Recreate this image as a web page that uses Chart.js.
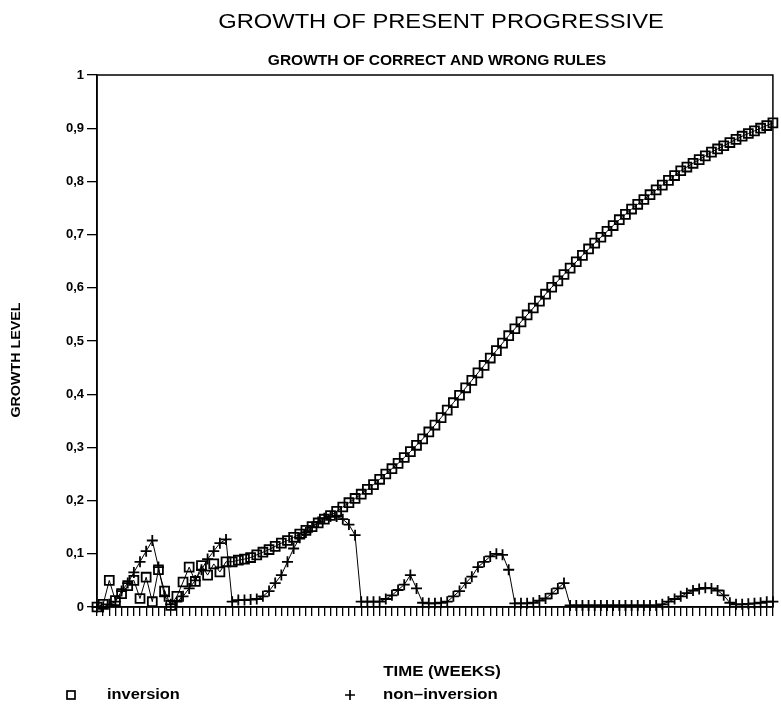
<!DOCTYPE html>
<html>
<head>
<meta charset="utf-8">
<script src="https://cdn.jsdelivr.net/npm/chart.js@4.4.1/dist/chart.umd.min.js"></script>
<style>
  html, body { margin: 0; padding: 0; background: #fff; }
  #wrap { width: 781px; height: 704px; }
</style>
</head>
<body>
<div id="wrap"><canvas id="chart" width="781" height="704"></canvas></div>
<script>
// Texts
const TITLE = 'GROWTH OF PRESENT PROGRESSIVE';
const SUBTITLE = 'GROWTH OF CORRECT AND WRONG RULES';
const X_TITLE = 'TIME (WEEKS)';
const Y_TITLE = 'GROWTH LEVEL';
const SERIES_NAMES = ['inversion', 'non\u2013inversion'];

// One tick per week
const weeks = Array.from({ length: 111 }, (_, i) => String(i + 1));

// Y tick labels (decimal comma)
const yTickLabels = ['0', '0,1', '0,2', '0,3', '0,4', '0,5', '0,6', '0,7', '0,8', '0,9', '1'];

// Growth level of the correct rule (inversion)
const inversion = [
  0.000, 0.005, 0.050, 0.012, 0.025, 0.040, 0.050, 0.016, 0.056, 0.010,
  0.070, 0.030, 0.003, 0.020, 0.047, 0.075, 0.048, 0.078, 0.060, 0.081,
  0.066, 0.085, 0.085, 0.088, 0.090, 0.093, 0.098, 0.103, 0.108, 0.114,
  0.120, 0.125, 0.131, 0.137, 0.144, 0.151, 0.158, 0.165, 0.172, 0.180,
  0.188, 0.196, 0.204, 0.212, 0.221, 0.230, 0.240, 0.250, 0.260, 0.270,
  0.281, 0.292, 0.304, 0.316, 0.329, 0.342, 0.356, 0.370, 0.384, 0.398,
  0.412, 0.426, 0.440, 0.454, 0.468, 0.482, 0.496, 0.510, 0.523, 0.536,
  0.549, 0.562, 0.575, 0.588, 0.601, 0.613, 0.625, 0.637, 0.649, 0.661,
  0.673, 0.684, 0.695, 0.706, 0.717, 0.728, 0.738, 0.748, 0.757, 0.766,
  0.775, 0.784, 0.793, 0.802, 0.811, 0.820, 0.827, 0.834, 0.841, 0.848,
  0.855, 0.861, 0.867, 0.873, 0.879, 0.885, 0.890, 0.895, 0.900, 0.905,
  0.910
];

// Growth level of the wrong rule (non-inversion)
const nonInversion = [
  0.000, 0.000, 0.005, 0.010, 0.030, 0.045, 0.065, 0.085, 0.105, 0.125,
  0.075, 0.020, 0.005, 0.010, 0.020, 0.035, 0.050, 0.070, 0.090, 0.105,
  0.120, 0.127, 0.010, 0.013, 0.013, 0.014, 0.015, 0.020, 0.030, 0.045,
  0.060, 0.085, 0.110, 0.130, 0.140, 0.150, 0.160, 0.167, 0.170, 0.170,
  0.165, 0.155, 0.135, 0.010, 0.010, 0.010, 0.010, 0.015, 0.022, 0.032,
  0.042, 0.060, 0.035, 0.008, 0.007, 0.007, 0.008, 0.010, 0.020, 0.030,
  0.045, 0.057, 0.075, 0.085, 0.095, 0.100, 0.098, 0.070, 0.007, 0.007,
  0.007, 0.008, 0.012, 0.016, 0.025, 0.035, 0.045, 0.003, 0.003, 0.003,
  0.003, 0.003, 0.003, 0.003, 0.003, 0.003, 0.003, 0.003, 0.003, 0.003,
  0.003, 0.003, 0.005, 0.010, 0.015, 0.020, 0.026, 0.031, 0.034, 0.036,
  0.035, 0.031, 0.022, 0.008, 0.005, 0.005, 0.006, 0.007, 0.008, 0.010,
  0.010
];

const INK = '#000';
const FONT = '"Liberation Sans", Arial, sans-serif';

// Draws a text horizontally stretched around its anchor point
function wideText(ctx, text, x, y, font, stretch, align) {
  ctx.save();
  ctx.font = font;
  ctx.textAlign = align;
  ctx.textBaseline = 'middle';
  ctx.translate(x, y);
  ctx.scale(stretch, 1);
  ctx.fillText(text, 0, 0);
  ctx.restore();
}

// Frame, titles, axis titles and legend
const decorations = {
  id: 'decorations',
  afterDraw(chart) {
    const { ctx, chartArea: a } = chart;
    ctx.save();
    ctx.strokeStyle = INK;
    ctx.fillStyle = INK;
    ctx.lineWidth = 1.5;
    ctx.strokeRect(a.left, a.top, a.right - a.left, a.bottom - a.top);

    wideText(ctx, TITLE, 441, 22, '21px ' + FONT, 1.13, 'center');
    wideText(ctx, SUBTITLE, 437, 61, 'bold 14px ' + FONT, 1.11, 'center');
    wideText(ctx, X_TITLE, 442, 672, 'bold 14px ' + FONT, 1.2, 'center');

    ctx.save();
    ctx.translate(16, 360);
    ctx.rotate(-Math.PI / 2);
    wideText(ctx, Y_TITLE, 0, 0, 'bold 13px ' + FONT, 1.1, 'center');
    ctx.restore();

    // legend
    ctx.lineWidth = 1.7;
    ctx.strokeRect(67, 691, 8, 8);
    wideText(ctx, SERIES_NAMES[0], 107, 695, 'bold 14px ' + FONT, 1.17, 'left');
    ctx.beginPath();
    ctx.moveTo(345, 695); ctx.lineTo(355, 695);
    ctx.moveTo(350, 690); ctx.lineTo(350, 700);
    ctx.stroke();
    wideText(ctx, SERIES_NAMES[1], 383, 695, 'bold 14px ' + FONT, 1.2, 'left');
    ctx.restore();
  }
};

new Chart(document.getElementById('chart'), {
  type: 'line',
  data: {
    labels: weeks,
    datasets: [
      {
        label: SERIES_NAMES[0],
        data: inversion,
        borderColor: INK,
        borderWidth: 1,
        pointStyle: 'rect',
        pointRadius: 6.3,
        pointBorderWidth: 1.8,
        pointBorderColor: INK,
        pointBackgroundColor: 'rgba(0,0,0,0)',
        tension: 0,
        clip: false
      },
      {
        label: SERIES_NAMES[1],
        data: nonInversion,
        borderColor: INK,
        borderWidth: 1,
        pointStyle: 'cross',
        pointRadius: 5.5,
        pointBorderWidth: 1.8,
        pointBorderColor: INK,
        tension: 0,
        clip: false
      }
    ]
  },
  options: {
    responsive: false,
    animation: false,
    devicePixelRatio: 1,
    layout: { padding: { top: 75, left: 0, right: 4, bottom: 0 } },
    plugins: {
      legend: { display: false },
      title: { display: false },
      tooltip: { enabled: false }
    },
    scales: {
      x: {
        type: 'category',
        offset: false,
        ticks: { display: false, autoSkip: false },
        grid: { display: true, drawOnChartArea: false, drawTicks: true, tickLength: 9, color: INK, lineWidth: 1.3 },
        border: { display: true, color: INK, width: 1.5 },
        afterFit(scale) { scale.height = 97; }
      },
      y: {
        min: 0,
        max: 1,
        ticks: {
          stepSize: 0.1,
          color: INK,
          padding: 3,
          font: { family: FONT, size: 13, weight: 'bold' },
          callback: (v) => yTickLabels[Math.round(v * 10)]
        },
        grid: { display: true, drawOnChartArea: false, drawTicks: true, tickLength: 10, color: INK, lineWidth: 1.3 },
        border: { display: true, color: INK, width: 1.5 },
        afterFit(scale) { scale.width = 97; }
      }
    }
  },
  plugins: [decorations]
});
</script>
</body>
</html>
